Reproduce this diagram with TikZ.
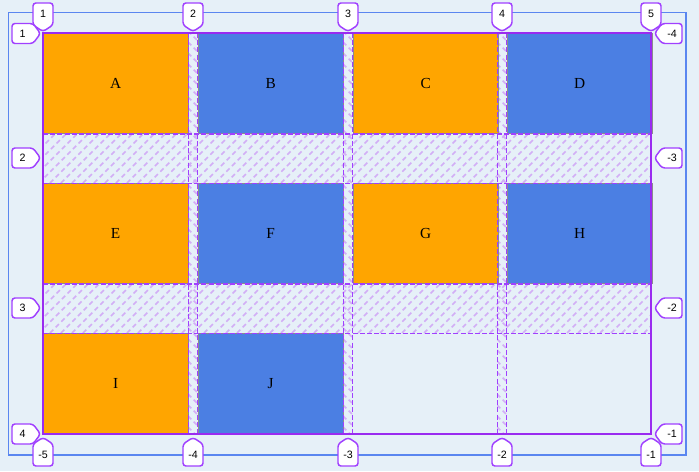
\documentclass[tikz,border=0pt]{standalone}
\usepackage{fontspec}
\setmainfont{Liberation Serif}
\newfontfamily\lblfont{Liberation Sans}
\begin{document}
\begin{tikzpicture}[x=0.75pt,y=-0.75pt,
  cellorange/.style={fill=orange0,draw=gray!90,line width=0.6pt},
  cellblue/.style={fill=blue0,draw=gray!90,line width=0.6pt},
  letter/.style={font=\fontsize{11.5}{12}\selectfont},
  gridline/.style={draw=gridpurple,dash pattern=on 3.8pt off 1.6pt,line width=0.9pt},
  hatch/.style={draw=hatchpurple,dash pattern=on 3.5pt off 2.5pt,line width=1.1pt},
  lbl/.style={fill=white,draw=lblpurple,line width=1.1pt,rounded corners=2.2pt},
  lbltext/.style={font=\lblfont\fontsize{8}{9}\selectfont,inner sep=0pt}]
\definecolor{bg}{HTML}{E6F0F8}
\definecolor{outerblue}{HTML}{5A86F0}
\definecolor{orange0}{HTML}{FFA500}
\definecolor{blue0}{HTML}{4B7FE3}
\definecolor{gridpurple}{HTML}{A040FF}
\definecolor{hatchpurple}{HTML}{D2AEF6}
\definecolor{lblpurple}{HTML}{A040FF}
\definecolor{contpurple}{HTML}{9A2BF0}
% background
\fill[bg] (0,0) rectangle (699,471);
\useasboundingbox (0,0) rectangle (699,471);
\draw[outerblue,line width=0.8pt] (8.5,12.5) rectangle (686,455);
% hatched row gaps
\foreach \ya/\yb in {133/183,283/333}{
  \begin{scope}
    \clip (43,\ya) rectangle (651,\yb);
    \foreach \k in {-60,-49,...,660}{
      \draw[hatch] (\k,\yb) -- ++(50,-50);
    }
  \end{scope}
}
% hatched column gaps
\foreach \xa/\xb in {188/198,343/353,497/507}{
  \begin{scope}
    \clip (\xa,33) rectangle (\xb,434);
    \foreach \k in {20,31,...,440}{
      \draw[hatch] (\xa,\k) -- ++(12,12);
    }
  \end{scope}
}
% cells
\node[cellorange,minimum width=108.4pt,minimum height=75pt,inner sep=0pt,anchor=north west,letter] (A) at (43,33) {A};
\node[cellblue,minimum width=108.4pt,minimum height=75pt,inner sep=0pt,anchor=north west,letter] (B) at (198,33) {B};
\node[cellorange,minimum width=108.4pt,minimum height=75pt,inner sep=0pt,anchor=north west,letter] (C) at (353,33) {C};
\node[cellblue,minimum width=108.4pt,minimum height=75pt,inner sep=0pt,anchor=north west,letter] (D) at (507,33) {D};
\node[cellorange,minimum width=108.4pt,minimum height=75pt,inner sep=0pt,anchor=north west,letter] (E) at (43,183) {E};
\node[cellblue,minimum width=108.4pt,minimum height=75pt,inner sep=0pt,anchor=north west,letter] (F) at (198,183) {F};
\node[cellorange,minimum width=108.4pt,minimum height=75pt,inner sep=0pt,anchor=north west,letter] (G) at (353,183) {G};
\node[cellblue,minimum width=108.4pt,minimum height=75pt,inner sep=0pt,anchor=north west,letter] (H) at (507,183) {H};
\node[cellorange,minimum width=108.4pt,minimum height=75.5pt,inner sep=0pt,anchor=north west,letter] (I) at (43,333) {I};
\node[cellblue,minimum width=108.4pt,minimum height=75.5pt,inner sep=0pt,anchor=north west,letter] (J) at (198,333) {J};
% grid gap lines
\foreach \x in {188.7,197.8,343.5,352.7,497.7,506.8}{
  \draw[gridline] (\x,33) -- (\x,434);
}
\foreach \y in {134,183.5,284,333.5}{
  \draw[gridline] (43,\y) -- (651,\y);
}
% container
\draw[contpurple,line width=1.2pt] (43,33) rectangle (651,434);
% top labels
\foreach \cx/\t [count=\i] in {43/1,193/2,348/3,502/4,651/5}{
  \draw[lbl] (\cx-10,3) -- (\cx+10,3) -- (\cx+10,25) -- (\cx,31.5) -- (\cx-10,25) -- cycle;
  \node[lbltext] (top\i) at (\cx,14) {\t};
}
% bottom labels
\foreach \cx/\t [count=\i] in {43/-5,193/-4,348/-3,502/-2,651/-1}{
  \draw[lbl] (\cx-10,466) -- (\cx+10,466) -- (\cx+10,444) -- (\cx,437.5) -- (\cx-10,444) -- cycle;
  \node[lbltext] (bot\i) at (\cx,455) {\t};
}
% left labels
\foreach \cy/\t [count=\i] in {33.5/1,158/2,308/3,434/4}{
  \draw[lbl] (12,\cy-10) -- (33,\cy-10) -- (40.5,\cy) -- (33,\cy+10) -- (12,\cy+10) -- cycle;
  \node[lbltext] (left\i) at (22.5,\cy) {\t};
}
% right labels
\foreach \cy/\t [count=\i] in {33.5/-4,158/-3,308/-2,434/-1}{
  \draw[lbl] (682,\cy-10) -- (662,\cy-10) -- (654.5,\cy) -- (662,\cy+10) -- (682,\cy+10) -- cycle;
  \node[lbltext] (right\i) at (672,\cy) {\t};
}
\end{tikzpicture}
\end{document}
